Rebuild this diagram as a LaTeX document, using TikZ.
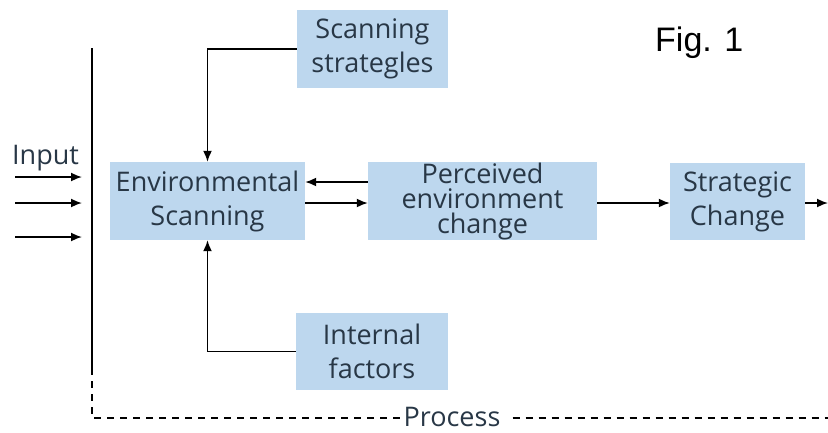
\documentclass[tikz,border=0pt]{standalone}
\usepackage{fontspec}
\setmainfont{Open Sans}
\newfontfamily\figfont{Liberation Sans}
\usetikzlibrary{arrows.meta}
\definecolor{boxblue}{RGB}{189,215,238}
\definecolor{txt}{RGB}{40,55,70}
\begin{document}
\begin{tikzpicture}[x=1pt,y=-1pt,
  blk/.style={fill=boxblue,draw=none,inner sep=0pt,align=center,text=txt,
    font=\fontsize{27}{34}\selectfont},
  conn/.style={line width=1.7pt,-{Latex[length=11pt,width=9pt]}},
  plain/.style={line width=1.7pt},
  dashline/.style={line width=1.2pt,dash pattern=on 7pt off 6pt}]
\useasboundingbox (0,0) rectangle (828,432);
% boxes
\node[blk,minimum width=195,minimum height=78] (env) at (207.5,201) {Environmental\\Scanning};
\node[blk,minimum width=229,minimum height=78,font=\fontsize{27}{25}\selectfont] (per) at (482.5,201) {Perceived\\environment\\change};
\node[blk,minimum width=135,minimum height=77] (str) at (737.5,201.5) {Strategic\\Change};
\node[blk,minimum width=151,minimum height=78] (ss) at (372.5,49) {Scanning\\strategles};
\node[blk,minimum width=152,minimum height=77] (inf) at (372,351.5) {Internal\\factors};
% text
\node[text=txt,font=\fontsize{27}{30}\selectfont,anchor=base west,inner sep=0pt] (inp) at (12,164) {Input};
\node[font=\figfont\fontsize{34}{40}\selectfont,anchor=base west,inner sep=0pt] (fig) at (655,51) {Fig. 1};
\node[text=txt,font=\fontsize{27}{30}\selectfont,anchor=base,inner sep=0pt] (proc) at (452,426) {Process};
% vertical line and process
\coordinate (vtop) at (92,48);
\coordinate (vmid) at (92,368);
\coordinate (vbot) at (92,418);
\coordinate (pend) at (828,418);
\draw[plain] (vtop) -- (vmid);
\draw[dashline] (vmid) -- (vbot) -- ([xshift=-3pt]proc.west |- vbot);
\draw[dashline] ([xshift=12pt]proc.east |- vbot) -- (pend);
% input arrows
\foreach \y/\n in {177/a,203/b,237/c}{
  \coordinate (i\n) at (15,\y);
  \coordinate (j\n) at (82,\y);
  \draw[conn] (i\n) -- (j\n);
}
% feedback
\draw[conn] (ss.west) -| (env.north);
\draw[conn] (inf.west) -| (env.south);
\draw[conn] (per.west |- 0,182) -- (env.east |- 0,182);
\draw[conn] (env.east |- 0,203) -- (per.west |- 0,203);
\draw[conn] (per.east |- 0,203) -- (str.west |- 0,203);
\coordinate (outend) at (828,203);
\draw[conn] (str.east |- 0,203) -- (outend);
\end{tikzpicture}
\end{document}
